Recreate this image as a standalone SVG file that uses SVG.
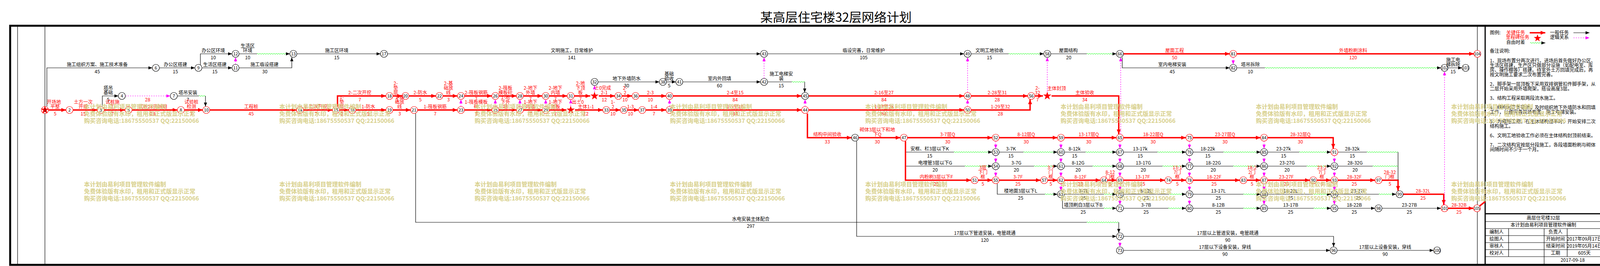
<svg xmlns="http://www.w3.org/2000/svg" width="4106" height="682" viewBox="0 0 4106 682">
<style>
text{font-family:"Noto Sans CJK SC","Noto Sans",sans-serif}
.t{font-size:12px;text-anchor:middle;fill:#000}
.t.rt{fill:#f00}
.lt{font-size:12px;fill:#000}
.n circle{fill:#fff;stroke:#000;stroke-width:1.2}
.n.rn circle{stroke:#f00}
.n text{font-size:11px;text-anchor:middle;fill:#000}
.n text.s{font-size:10px}
.k{fill:none;stroke:#000;stroke-width:1.2;marker-end:url(#ak)}
.kn{fill:none;stroke:#000;stroke-width:1.2}
.r{fill:none;stroke:#f00;stroke-width:3.5;marker-end:url(#ar)}
.rs{fill:none;stroke:#f00;stroke-width:3.5}
.m{fill:none;stroke:#f0f;stroke-width:1.2;stroke-dasharray:3 3;marker-end:url(#am)}
.w{fill:url(#wave)}
.fr{fill:none;stroke:#000}
.wm{font-size:15px;font-weight:bold;fill:#d8d08c}
</style>
<defs>
<marker id="ak" viewBox="0 0 10 8" refX="10" refY="4" markerWidth="10" markerHeight="8" markerUnits="userSpaceOnUse" orient="auto"><path d="M0,0 L10,4 L0,8 z" fill="#000"/></marker>
<marker id="am" viewBox="0 0 10 8" refX="10" refY="4" markerWidth="10" markerHeight="8" markerUnits="userSpaceOnUse" orient="auto"><path d="M0,0 L10,4 L0,8 z" fill="#f0f"/></marker>
<marker id="ar" viewBox="0 0 12 10" refX="12" refY="5" markerWidth="12" markerHeight="10" markerUnits="userSpaceOnUse" orient="auto"><path d="M0,0 L12,5 L0,10 z" fill="#f00"/></marker>
<pattern id="wave" width="6" height="6" patternUnits="userSpaceOnUse"><path d="M0,3 Q1.5,0.5 3,3 T6,3" fill="none" stroke="#0f0" stroke-width="1"/></pattern>
<path id="star" d="M0,-11 L2.59,-3.56 L10.46,-3.4 L4.18,1.36 L6.47,8.9 L0,4.4 L-6.47,8.9 L-4.18,1.36 L-10.46,-3.4 L-2.59,-3.56 Z" fill="#f00"/>
</defs>
<rect width="4106" height="682" fill="#fff"/>
<text x="2140" y="56" font-size="32" text-anchor="middle" fill="#000">某高层住宅楼32层网络计划</text>
<g id="frame">
<rect class="fr" x="26" y="66" width="4075" height="613" stroke-width="5"/>
<path class="fr" d="M45,66 V679 M115,66 V679 M3782,66 V679" stroke-width="1.2"/>
<path class="fr" d="M3802,66 V679" stroke-width="3"/>
</g>
<g id="connectors">
<path class="k" d="M120,273 V174 H390"/>
<path class="k" d="M408,174 H499"/>
<path class="k" d="M513,166 V138 H594"/>
<path class="k" d="M517,174 H594"/>
<path class="k" d="M612,174 H747 V147"/>
<path class="kn" d="M612,138 H658"/><rect class="w" width="80" height="6" transform="translate(658,135)"/><path class="k" d="M738,138 H742"/>
<path class="k" d="M760,138 H974"/>
<path class="k" d="M992,138 H1947"/>
<path class="k" d="M1965,138 H2468"/>
<path class="kn" d="M2486,138 H2582"/><rect class="w" width="82" height="6" transform="translate(2582,135)"/><path class="k" d="M2666,138 H2672"/>
<path class="kn" d="M2690,138 H2782"/><rect class="w" width="70" height="6" transform="translate(2782,135)"/><path class="k" d="M2852,138 H2858"/>
<path class="r" d="M2876,138 H3148"/>
<path class="r" d="M3166,138 H3773"/>
<path class="k" d="M2873,147 V174 H3148"/>
<path class="kn" d="M3166,174 H3238"/><rect class="w" width="446" height="6" transform="translate(3238,171)"/><path class="k" d="M3684,174 H3689"/>
<path class="k" d="M3707,174 H3743"/>
<path class="k" d="M262,273 V246 H303"/>
<path class="kn" d="M454,246 H509"/><rect class="w" width="17" height="6" transform="translate(509,243)"/><path class="k" d="M526,246 V273"/>
<path class="k" d="M1531,210 H1688"/>
<path class="k" d="M1706,210 H1730"/>
<path class="k" d="M1748,210 H1947"/>
<path class="kn" d="M1965,210 H2027"/><rect class="w" width="33" height="6" transform="translate(2027,207)"/><path class="k" d="M2060,210 V237"/>
<path class="r" d="M124,282 H169"/>
<path class="r" d="M187,282 H249"/>
<path class="r" d="M267,282 H320"/>
<path class="r" d="M338,282 H454"/>
<path class="r" d="M472,282 H519"/>
<path class="r" d="M537,282 H759"/>
<path class="r" d="M777,282 H851"/>
<path class="r" d="M869,282 H893"/>
<path class="r" d="M864,273 V246 H988"/>
<path class="r" d="M911,282 H988"/>
<path class="r" d="M1006,246 H1029"/>
<path class="r" d="M1006,282 H1051"/>
<path class="r" d="M1047,246 H1116"/>
<path class="r" d="M1069,282 H1171"/>
<path class="r" d="M1134,246 H1171"/>
<path class="r" d="M1189,282 H1259"/>
<path class="r" d="M1189,246 H1259"/>
<path class="r" d="M1277,282 H1322"/>
<path class="r" d="M1277,246 H1322"/>
<path class="r" d="M1340,282 H1388"/>
<path class="r" d="M1340,246 H1388"/>
<path class="r" d="M1406,282 H1450"/>
<path class="r" d="M1406,246 H1452"/>
<path class="r" d="M1470,246 H1511"/>
<path class="r" d="M1472,282 H1543"/>
<path class="r" d="M1533,246 H1574"/>
<path class="r" d="M1561,282 H1588"/>
<path class="r" d="M1592,246 H1618"/>
<path class="r" d="M1606,282 H1635"/>
<path class="r" d="M1636,246 H1705"/>
<path class="r" d="M1653,282 H1705"/>
<path class="r" d="M1723,246 H2052"/>
<path class="r" d="M1723,282 H2052"/>
<path class="r" d="M2070,246 H2468"/>
<path class="r" d="M2070,282 H2468"/>
<path class="r" d="M2486,246 H2631"/>
<path class="r" d="M2486,282 H2637 V255"/>
<path class="r" d="M2649,246 H2670"/>
<path class="r" d="M2692,246 H2864 V344"/>
<path class="r" d="M2067,291 V353 H2180"/>
<path class="r" d="M2198,353 H2305"/>
<path class="r" d="M2323,353 H2540"/>
<path class="r" d="M2558,353 H2707"/>
<path class="r" d="M2725,353 H2858"/>
<path class="r" d="M2876,353 H3036"/>
<path class="r" d="M3054,353 H3227"/>
<path class="r" d="M3245,353 H3413 V381"/>
<path class="r" d="M2318,362 V462 H2486"/>
<path class="r" d="M2504,462 H2540"/>
<path class="r" d="M2558,462 H2664"/>
<path class="r" d="M2682,462 H2707"/>
<path class="r" d="M2725,462 H2817"/>
<path class="r" d="M2835,462 H2858"/>
<path class="r" d="M2876,462 H2982"/>
<path class="r" d="M3000,462 H3036"/>
<path class="r" d="M3054,462 H3174"/>
<path class="r" d="M3192,462 H3227"/>
<path class="r" d="M3245,462 H3353"/>
<path class="r" d="M3371,462 H3407"/>
<path class="r" d="M3425,462 H3520"/>
<path class="r" d="M3538,462 H3579 V489"/>
<path class="r" d="M3592,498 H3696 V525"/>
<path class="r" d="M3707,534 H3772"/>
<path class="rs" d="M3788,528 L3802,517"/>
<path class="kn" d="M2320,390 H2442"/><rect class="w" width="94" height="6" transform="translate(2442,387)"/><path class="k" d="M2535,390 H2540"/>
<path class="kn" d="M2558,390 H2620"/><rect class="w" width="83" height="6" transform="translate(2620,387)"/><path class="k" d="M2702,390 H2707"/>
<path class="kn" d="M2725,390 H2779"/><rect class="w" width="75" height="6" transform="translate(2779,387)"/><path class="k" d="M2853,390 H2858"/>
<path class="kn" d="M2876,390 H2963"/><rect class="w" width="69" height="6" transform="translate(2963,387)"/><path class="k" d="M3031,390 H3036"/>
<path class="kn" d="M3054,390 H3132"/><rect class="w" width="91" height="6" transform="translate(3132,387)"/><path class="k" d="M3222,390 H3227"/>
<path class="kn" d="M3245,390 H3326"/><rect class="w" width="77" height="6" transform="translate(3326,387)"/><path class="k" d="M3402,390 H3407"/>
<path class="kn" d="M3425,390 H3499"/><rect class="w" width="80" height="6" transform="translate(3499,387)"/><path class="kn" d="M3579,390 V462"/>
<path class="kn" d="M2320,426 H2470"/><rect class="w" width="66" height="6" transform="translate(2470,423)"/><path class="k" d="M2535,426 H2540"/>
<path class="kn" d="M2558,426 H2647"/><rect class="w" width="56" height="6" transform="translate(2647,423)"/><path class="k" d="M2702,426 H2707"/>
<path class="kn" d="M2725,426 H2797"/><rect class="w" width="57" height="6" transform="translate(2797,423)"/><path class="k" d="M2853,426 H2858"/>
<path class="kn" d="M2876,426 H2976"/><rect class="w" width="56" height="6" transform="translate(2976,423)"/><path class="k" d="M3031,426 H3036"/>
<path class="kn" d="M3054,426 H3157"/><rect class="w" width="66" height="6" transform="translate(3157,423)"/><path class="k" d="M3222,426 H3227"/>
<path class="kn" d="M3245,426 H3345"/><rect class="w" width="58" height="6" transform="translate(3345,423)"/><path class="k" d="M3402,426 H3407"/>
<path class="kn" d="M3425,426 H3514"/><rect class="w" width="65" height="6" transform="translate(3514,423)"/>
<path class="kn" d="M2553,471 V498 H2675"/><rect class="w" width="28" height="6" transform="translate(2675,495)"/><path class="k" d="M2702,498 H2707"/>
<path class="kn" d="M2725,498 H2826"/><rect class="w" width="28" height="6" transform="translate(2826,495)"/><path class="k" d="M2853,498 H2858"/>
<path class="kn" d="M2876,498 H2993"/><rect class="w" width="39" height="6" transform="translate(2993,495)"/><path class="k" d="M3031,498 H3036"/>
<path class="kn" d="M3054,498 H3183"/><rect class="w" width="40" height="6" transform="translate(3183,495)"/><path class="k" d="M3222,498 H3227"/>
<path class="kn" d="M3245,498 H3361"/><rect class="w" width="42" height="6" transform="translate(3361,495)"/><path class="k" d="M3402,498 H3407"/>
<path class="kn" d="M3425,498 H3530"/><rect class="w" width="40" height="6" transform="translate(3530,495)"/><path class="k" d="M3569,498 H3574"/>
<path class="kn" d="M2720,507 V534 H2826"/><rect class="w" width="28" height="6" transform="translate(2826,531)"/><path class="k" d="M2853,534 H2858"/>
<path class="kn" d="M2876,534 H2991"/><rect class="w" width="41" height="6" transform="translate(2991,531)"/><path class="k" d="M3031,534 H3036"/>
<path class="kn" d="M3054,534 H3183"/><rect class="w" width="40" height="6" transform="translate(3183,531)"/><path class="k" d="M3222,534 H3227"/>
<path class="kn" d="M3245,534 H3363"/><rect class="w" width="40" height="6" transform="translate(3363,531)"/><path class="k" d="M3402,534 H3407"/>
<path class="k" d="M3425,534 H3520"/>
<path class="k" d="M3538,534 H3689"/>
<path class="kn" d="M1064,291 V570 H2782"/><rect class="w" width="82" height="6" transform="translate(2782,567)"/><path class="k" d="M2864,570 V597"/>
<path class="k" d="M2193,362 V606 H2858"/>
<path class="k" d="M2876,606 H3414 V633"/>
<path class="k" d="M2876,642 H3405"/>
<path class="k" d="M3423,642 H3670"/>
<path class="m" d="M321,246 H436"/>
<path class="m" d="M603,165 V147"/>
<path class="m" d="M1956,201 V147"/>
<path class="m" d="M2477,237 V147"/>
<path class="m" d="M2681,235 V147"/>
<path class="m" d="M2869,344 V147"/>
<path class="m" d="M3157,147 V165"/>
<path class="m" d="M3698,525 V183"/>
<path class="m" d="M1522,235 V219"/>
<path class="m" d="M1180,273 V255"/>
<path class="m" d="M1268,273 V255"/>
<path class="m" d="M1331,273 V255"/>
<path class="m" d="M1397,273 V255"/>
<path class="m" d="M1461,271 V255"/>
<path class="m" d="M1714,273 V255"/>
<path class="m" d="M2061,273 V255"/>
<path class="m" d="M2477,273 V255"/>
<path class="m" d="M2549,362 V381"/><path class="m" d="M2549,399 V417"/><path class="m" d="M2549,435 V453"/>
<path class="m" d="M2716,362 V381"/><path class="m" d="M2716,399 V417"/><path class="m" d="M2716,435 V453"/><path class="m" d="M2716,471 V489"/>
<path class="m" d="M2867,362 V381"/><path class="m" d="M2867,399 V417"/><path class="m" d="M2867,435 V453"/><path class="m" d="M2867,471 V489"/><path class="m" d="M2867,507 V525"/>
<path class="m" d="M3045,362 V381"/><path class="m" d="M3045,399 V417"/><path class="m" d="M3045,435 V453"/><path class="m" d="M3045,471 V489"/><path class="m" d="M3045,507 V525"/>
<path class="m" d="M3236,362 V381"/><path class="m" d="M3236,399 V417"/><path class="m" d="M3236,435 V453"/><path class="m" d="M3236,471 V489"/><path class="m" d="M3236,507 V525"/>
<path class="m" d="M3416,399 V417"/><path class="m" d="M3416,435 V453"/><path class="m" d="M3416,471 V489"/><path class="m" d="M3416,507 V525"/>
<path class="m" d="M2867,615 V633"/>
</g>
<g id="nodes">
<g id="n1" class="n rn" transform="translate(115,282)"><circle r="9"/><use href="#star"/><text y="4">1</text></g>
<g id="n2" class="n rn" transform="translate(178,282)"><circle r="9"/><text y="4">2</text></g>
<g id="n3" class="n rn" transform="translate(258,282)"><circle r="9"/><text y="4">3</text></g>
<g id="n4" class="n" transform="translate(312,246)"><circle r="9"/><text y="4">4</text></g>
<g id="n5" class="n rn" transform="translate(329,282)"><circle r="9"/><text y="4">5</text></g>
<g id="n6" class="n" transform="translate(399,174)"><circle r="9"/><text y="4">6</text></g>
<g id="n7" class="n" transform="translate(445,246)"><circle r="9"/><text y="4">7</text></g>
<g id="n8" class="n rn" transform="translate(463,282)"><circle r="9"/><text y="4">8</text></g>
<g id="n9" class="n" transform="translate(508,174)"><circle r="9"/><text y="4">9</text></g>
<g id="n10" class="n rn" transform="translate(528,282)"><circle r="9"/><text y="4">10</text></g>
<g id="n11" class="n" transform="translate(603,174)"><circle r="9"/><text y="4">11</text></g>
<g id="n12" class="n" transform="translate(603,138)"><circle r="9"/><text y="4">12</text></g>
<g id="n13" class="n" transform="translate(751,138)"><circle r="9"/><text y="4">13</text></g>
<g id="n14" class="n rn" transform="translate(768,282)"><circle r="9"/><text y="4">14</text></g>
<g id="n15" class="n rn" transform="translate(860,282)"><circle r="9"/><text y="4">15</text></g>
<g id="n16" class="n rn" transform="translate(902,282)"><circle r="9"/><text y="4">16</text></g>
<g id="n17" class="n" transform="translate(983,138)"><circle r="9"/><text y="4">17</text></g>
<g id="n18" class="n rn" transform="translate(997,246)"><circle r="9"/><text y="4">18</text></g>
<g id="n19" class="n rn" transform="translate(997,282)"><circle r="9"/><text y="4">19</text></g>
<g id="n20" class="n rn" transform="translate(1038,246)"><circle r="9"/><text y="4">20</text></g>
<g id="n21" class="n rn" transform="translate(1060,282)"><circle r="9"/><text y="4">21</text></g>
<g id="n22" class="n rn" transform="translate(1125,246)"><circle r="9"/><text y="4">22</text></g>
<g id="n23" class="n rn" transform="translate(1180,282)"><circle r="9"/><text y="4">23</text></g>
<g id="n24" class="n rn" transform="translate(1180,246)"><circle r="9"/><text y="4">24</text></g>
<g id="n25" class="n rn" transform="translate(1268,282)"><circle r="9"/><text y="4">25</text></g>
<g id="n26" class="n rn" transform="translate(1268,246)"><circle r="9"/><text y="4">26</text></g>
<g id="n27" class="n rn" transform="translate(1331,282)"><circle r="9"/><text y="4">27</text></g>
<g id="n28" class="n rn" transform="translate(1331,246)"><circle r="9"/><text y="4">28</text></g>
<g id="n29" class="n rn" transform="translate(1397,282)"><circle r="9"/><text y="4">29</text></g>
<g id="n30" class="n rn" transform="translate(1397,246)"><circle r="9"/><text y="4">30</text></g>
<g id="n31" class="n rn" transform="translate(1461,246)"><circle r="9"/><text y="4">31</text></g>
<g id="ms1" transform="translate(1461,282)"><use href="#star"/></g>
<g id="n32" class="n" transform="translate(1522,210)"><circle r="9"/><text y="4">32</text></g>
<g id="ms2" transform="translate(1522,246)"><use href="#star"/></g>
<g id="n33" class="n rn" transform="translate(1552,282)"><circle r="9"/><text y="4">33</text></g>
<g id="n34" class="n rn" transform="translate(1583,246)"><circle r="9"/><text y="4">34</text></g>
<g id="n35" class="n rn" transform="translate(1597,282)"><circle r="9"/><text y="4">35</text></g>
<g id="n36" class="n rn" transform="translate(1627,246)"><circle r="9"/><text y="4">36</text></g>
<g id="n37" class="n rn" transform="translate(1644,282)"><circle r="9"/><text y="4">37</text></g>
<g id="n38" class="n" transform="translate(1697,210)"><circle r="9"/><text y="4">38</text></g>
<g id="n39" class="n rn" transform="translate(1714,282)"><circle r="9"/><text y="4">39</text></g>
<g id="n40" class="n rn" transform="translate(1714,246)"><circle r="9"/><text y="4">40</text></g>
<g id="n41" class="n" transform="translate(1739,210)"><circle r="9"/><text y="4">41</text></g>
<g id="n42" class="n" transform="translate(1956,210)"><circle r="9"/><text y="4">42</text></g>
<g id="n43" class="n" transform="translate(1956,138)"><circle r="9"/><text y="4">43</text></g>
<g id="n44" class="n rn" transform="translate(2061,282)"><circle r="9"/><text y="4">44</text></g>
<g id="n45" class="n" transform="translate(2061,246)"><circle r="9"/><text y="4">45</text></g>
<g id="n46" class="n" transform="translate(2189,353)"><circle r="9"/><text y="4">46</text></g>
<g id="n47" class="n rn" transform="translate(2314,353)"><circle r="9"/><text y="4">47</text></g>
<g id="n48" class="n rn" transform="translate(2477,246)"><circle r="9"/><text y="4">48</text></g>
<g id="n49" class="n" transform="translate(2477,138)"><circle r="9"/><text y="4">49</text></g>
<g id="n50" class="n rn" transform="translate(2477,282)"><circle r="9"/><text y="4">50</text></g>
<g id="n51" class="n rn" transform="translate(2495,462)"><circle r="9"/><text y="4">51</text></g>
<g id="n52" class="n rn" transform="translate(2549,353)"><circle r="9"/><text y="4">52</text></g>
<g id="n53" class="n" transform="translate(2549,390)"><circle r="9"/><text y="4">53</text></g>
<g id="n54" class="n" transform="translate(2549,426)"><circle r="9"/><text y="4">54</text></g>
<g id="n55" class="n rn" transform="translate(2549,462)"><circle r="9"/><text y="4">55</text></g>
<g id="n56" class="n rn" transform="translate(2640,246)"><circle r="9"/><text y="4">56</text></g>
<g id="ms3" transform="translate(2681,246)"><use href="#star"/></g>
<g id="n57" class="n rn" transform="translate(2673,462)"><circle r="9"/><text y="4">57</text></g>
<g id="n58" class="n" transform="translate(2681,138)"><circle r="9"/><text y="4">58</text></g>
<g id="n59" class="n rn" transform="translate(2716,353)"><circle r="9"/><text y="4">59</text></g>
<g id="n60" class="n" transform="translate(2716,390)"><circle r="9"/><text y="4">60</text></g>
<g id="n61" class="n" transform="translate(2716,426)"><circle r="9"/><text y="4">61</text></g>
<g id="n62" class="n rn" transform="translate(2716,462)"><circle r="9"/><text y="4">62</text></g>
<g id="n63" class="n" transform="translate(2716,498)"><circle r="9"/><text y="4">63</text></g>
<g id="n64" class="n rn" transform="translate(2826,462)"><circle r="9"/><text y="4">64</text></g>
<g id="n65" class="n rn" transform="translate(2867,353)"><circle r="9"/><text y="4">65</text></g>
<g id="n66" class="n" transform="translate(2867,138)"><circle r="9"/><text y="4">66</text></g>
<g id="n67" class="n" transform="translate(2867,390)"><circle r="9"/><text y="4">67</text></g>
<g id="n68" class="n" transform="translate(2867,426)"><circle r="9"/><text y="4">68</text></g>
<g id="n69" class="n rn" transform="translate(2867,462)"><circle r="9"/><text y="4">69</text></g>
<g id="n70" class="n" transform="translate(2867,498)"><circle r="9"/><text y="4">70</text></g>
<g id="n71" class="n" transform="translate(2867,534)"><circle r="9"/><text y="4">71</text></g>
<g id="n72" class="n" transform="translate(2867,606)"><circle r="9"/><text y="4">72</text></g>
<g id="n73" class="n" transform="translate(2867,642)"><circle r="9"/><text y="4">73</text></g>
<g id="n74" class="n rn" transform="translate(2991,462)"><circle r="9"/><text y="4">74</text></g>
<g id="n75" class="n rn" transform="translate(3045,353)"><circle r="9"/><text y="4">75</text></g>
<g id="n76" class="n" transform="translate(3045,390)"><circle r="9"/><text y="4">76</text></g>
<g id="n77" class="n" transform="translate(3045,426)"><circle r="9"/><text y="4">77</text></g>
<g id="n78" class="n rn" transform="translate(3045,462)"><circle r="9"/><text y="4">78</text></g>
<g id="n79" class="n" transform="translate(3045,498)"><circle r="9"/><text y="4">79</text></g>
<g id="n80" class="n" transform="translate(3045,534)"><circle r="9"/><text y="4">80</text></g>
<g id="n81" class="n rn" transform="translate(3157,138)"><circle r="9"/><text y="4">81</text></g>
<g id="n82" class="n" transform="translate(3157,174)"><circle r="9"/><text y="4">82</text></g>
<g id="n83" class="n rn" transform="translate(3183,462)"><circle r="9"/><text y="4">83</text></g>
<g id="n84" class="n rn" transform="translate(3236,353)"><circle r="9"/><text y="4">84</text></g>
<g id="n85" class="n" transform="translate(3236,390)"><circle r="9"/><text y="4">85</text></g>
<g id="n86" class="n" transform="translate(3236,426)"><circle r="9"/><text y="4">86</text></g>
<g id="n87" class="n rn" transform="translate(3236,462)"><circle r="9"/><text y="4">87</text></g>
<g id="n88" class="n" transform="translate(3236,498)"><circle r="9"/><text y="4">88</text></g>
<g id="n89" class="n" transform="translate(3236,534)"><circle r="9"/><text y="4">89</text></g>
<g id="n90" class="n rn" transform="translate(3362,462)"><circle r="9"/><text y="4">90</text></g>
<g id="n91" class="n rn" transform="translate(3416,390)"><circle r="9"/><text y="4">91</text></g>
<g id="n92" class="n" transform="translate(3416,426)"><circle r="9"/><text y="4">92</text></g>
<g id="n93" class="n rn" transform="translate(3416,462)"><circle r="9"/><text y="4">93</text></g>
<g id="n94" class="n" transform="translate(3416,498)"><circle r="9"/><text y="4">94</text></g>
<g id="n95" class="n" transform="translate(3416,534)"><circle r="9"/><text y="4">95</text></g>
<g id="n96" class="n" transform="translate(3414,642)"><circle r="9"/><text y="4">96</text></g>
<g id="n97" class="n rn" transform="translate(3529,462)"><circle r="9"/><text y="4">97</text></g>
<g id="n98" class="n" transform="translate(3529,534)"><circle r="9"/><text y="4">98</text></g>
<g id="n99" class="n" transform="translate(3583,498)"><circle r="9"/><text y="4">99</text></g>
<g id="n100" class="n" transform="translate(3679,642)"><circle r="9"/><text class="s" y="4">100</text></g>
<g id="n101" class="n rn" transform="translate(3698,534)"><circle r="9"/><text class="s" y="4">101</text></g>
<g id="n102" class="n" transform="translate(3698,174)"><circle r="9"/><text class="s" y="4">102</text></g>
<g id="n103" class="n" transform="translate(3752,174)"><circle r="9"/><text class="s" y="4">103</text></g>
<g id="n104" class="n rn" transform="translate(3782,138)"><circle r="9"/><text class="s" y="4">104</text></g>
<g id="n105" class="n rn" transform="translate(3781,534)"><circle r="9"/><text class="s" y="4">105</text></g>
</g>
<g id="labels">
<text class="t" x="546" y="134">办公区环境</text><text class="t" x="546" y="152">10</text>
<text class="t" x="634" y="122">生活区<tspan x="634" dy="12">环境</tspan></text><text class="t" x="634" y="152">10</text>
<text class="t" x="862" y="134">施工区环境</text><text class="t" x="862" y="152">15</text>
<text class="t" x="1464" y="134">文明施工，日常维护</text><text class="t" x="1464" y="152">141</text>
<text class="t" x="2211" y="134">临设完善，日常维护</text><text class="t" x="2211" y="152">105</text>
<text class="t" x="2533" y="134">文明工地验收</text><text class="t" x="2533" y="152">15</text>
<text class="t" x="2735" y="134">屋面结构</text><text class="t" x="2736" y="152">20</text>
<text class="t rt" x="3007" y="134">屋面工程</text><text class="t rt" x="3007" y="152">50</text>
<text class="t rt" x="3464" y="134">外墙粉刷涂料</text><text class="t rt" x="3464" y="152">120</text>
<text class="t" x="249" y="170">施工组织方案、施工技术准备</text><text class="t" x="249" y="188">45</text>
<text class="t" x="449" y="170">办公区搭建</text><text class="t" x="449" y="188">15</text>
<text class="t" x="550" y="170">生活区搭建</text><text class="t" x="550" y="188">15</text>
<text class="t" x="677" y="170">施工临设搭建</text><text class="t" x="678" y="188">30</text>
<text class="t" x="3001" y="170">室内电梯安装</text><text class="t" x="3001" y="188">45</text>
<text class="t" x="3201" y="170">塔吊拆除</text><text class="t" x="3201" y="188">10</text>
<text class="t" x="3720" y="158">施工电<tspan x="3720" dy="12">梯拆除</tspan></text><text class="t" x="3720" y="188">15</text>
<text class="t" x="1604" y="206">地下外墙防水</text><text class="t" x="1604" y="224">30</text>
<text class="t" x="1713" y="194">基础<tspan x="1713" dy="12">验收</tspan></text><text class="t" x="1713" y="224">5</text>
<text class="t" x="1842" y="206">室内外回填</text><text class="t" x="1842" y="224">60</text>
<text class="t" x="2000" y="194">施工电梯安<tspan x="2000" dy="12">装</tspan></text><text class="t" x="2000" y="224">15</text>
<text class="t" x="277" y="230">塔吊<tspan x="277" dy="12">基础</tspan></text><text class="t" x="277" y="260">5</text>
<text class="t rt" x="378" y="260">28</text>
<text class="t" x="481" y="242">塔吊安装</text><text class="t" x="481" y="260">7</text>
<text class="t rt" x="921" y="242">2-二次开挖</text><text class="t rt" x="921" y="260">7</text>
<text class="t rt" x="1013" y="218">2-<tspan x="1013" dy="12">垫</tspan><tspan x="1013" dy="12">层</tspan></text><text class="t rt" x="1017" y="260">1</text>
<text class="t rt" x="1076" y="242">2-防水</text><text class="t rt" x="1076" y="260">5</text>
<text class="t rt" x="1148" y="218">2-基<tspan x="1148" dy="12">础放</tspan><tspan x="1148" dy="12">线</tspan></text><text class="t rt" x="1148" y="260">3</text>
<text class="t rt" x="1219" y="242">2-筏板钢筋</text><text class="t rt" x="1219" y="258">7</text>
<text class="t rt" x="1294" y="230">2-筏板<tspan x="1294" dy="12">模板砼</tspan></text>
<text class="t rt" x="1358" y="230">2-地下<tspan x="1358" dy="12">外墙</tspan></text><text class="t rt" x="1358" y="258">7</text>
<text class="t rt" x="1422" y="230">2-地下<tspan x="1422" dy="12">内墙</tspan></text><text class="t rt" x="1422" y="258">7</text>
<text class="t rt" x="1486" y="218">2-地<tspan x="1486" dy="12">下顶</tspan><tspan x="1486" dy="12">板</tspan></text><text class="t rt" x="1486" y="258">7</text>
<text class="t rt" x="1543" y="230">±0完成</text>
<text class="t rt" x="1547" y="242">2-1</text><text class="t rt" x="1547" y="260">12</text>
<text class="t rt" x="1600" y="230">2-<tspan x="1600" dy="12">2</tspan></text><text class="t rt" x="1600" y="260">10</text>
<text class="t rt" x="1665" y="242">2-3</text><text class="t rt" x="1665" y="260">10</text>
<text class="t rt" x="1882" y="242">2-4至15</text><text class="t rt" x="1882" y="260">84</text>
<text class="t rt" x="2263" y="242">2-16至27</text><text class="t rt" x="2263" y="260">84</text>
<text class="t rt" x="2553" y="242">2-28至31</text><text class="t rt" x="2553" y="260">28</text>
<text class="t rt" x="2656" y="230">2-<tspan x="2656" dy="12">32</tspan></text><text class="t rt" x="2656" y="260">7</text>
<text class="t rt" x="2705" y="231">主体封顶</text>
<text class="t rt" x="2777" y="242">主体验收</text><text class="t rt" x="2777" y="260">34</text>
<text class="t rt" x="138" y="266">开场地<tspan x="141" dy="12">平整</tspan></text><text class="t rt" x="141" y="296">5</text>
<text class="t rt" x="213" y="266">土方一次<tspan x="213" dy="12">开挖</tspan></text><text class="t rt" x="213" y="296">15</text>
<text class="t rt" x="288" y="266">试桩施<tspan x="288" dy="12">工</tspan></text><text class="t rt" x="288" y="296">7</text>
<text class="t rt" x="391" y="278">试桩28天龄期</text><text class="t rt" x="391" y="296">28</text>
<text class="t rt" x="490" y="266">试验桩<tspan x="490" dy="12">检测</tspan></text><text class="t rt" x="490" y="296">7</text>
<text class="t rt" x="643" y="278">工程桩</text><text class="t rt" x="643" y="296">45</text>
<text class="t rt" x="809" y="278">1-二次开挖</text><text class="t rt" x="809" y="296">7</text>
<text class="t rt" x="875" y="254">1-<tspan x="875" dy="12">垫</tspan><tspan x="875" dy="12">层</tspan></text><text class="t rt" x="875" y="296">2</text>
<text class="t rt" x="943" y="278">1-防水</text><text class="t rt" x="943" y="296">5</text>
<text class="t rt" x="1023" y="254">1-基<tspan x="1023" dy="12">础放</tspan><tspan x="1023" dy="12">线</tspan></text><text class="t rt" x="1023" y="296">3</text>
<text class="t rt" x="1114" y="278">1-筏板钢筋</text><text class="t rt" x="1114" y="296">7</text>
<text class="t rt" x="1219" y="266">1-筏板模板<tspan x="1219" dy="12">砼</tspan></text><text class="t rt" x="1219" y="296">7</text>
<text class="t rt" x="1294" y="254">1-地<tspan x="1294" dy="12">下外</tspan><tspan x="1294" dy="12">墙</tspan></text><text class="t rt" x="1294" y="296">7</text>
<text class="t rt" x="1358" y="266">1-地下<tspan x="1358" dy="12">内墙</tspan></text><text class="t rt" x="1358" y="296">7</text>
<text class="t rt" x="1422" y="266">1-地下<tspan x="1422" dy="12">顶板</tspan></text><text class="t rt" x="1422" y="296">7</text>
<text class="t rt" x="1479" y="266">出±0</text>
<text class="t rt" x="1500" y="278">主体1-1</text><text class="t rt" x="1500" y="296">12</text>
<text class="t rt" x="1569" y="266">1-<tspan x="1569" dy="12">2</tspan></text><text class="t rt" x="1569" y="296">10</text>
<text class="t rt" x="1614" y="278">1-3</text><text class="t rt" x="1614" y="296">10</text>
<text class="t rt" x="1674" y="278">1-4</text><text class="t rt" x="1674" y="296">7</text>
<text class="t rt" x="1882" y="278">1-5至16</text><text class="t rt" x="1882" y="296">84</text>
<text class="t rt" x="2263" y="278">1-17至28</text><text class="t rt" x="2263" y="296">84</text>
<text class="t rt" x="2561" y="278">1-29至32</text><text class="t rt" x="2561" y="296">28</text>
<text class="t rt" x="2118" y="349">结构中间验收</text><text class="t rt" x="2118" y="368">33</text>
<text class="t rt" x="2246" y="337">砌体3层以下和地<tspan x="2246" dy="12">下Q</tspan></text><text class="t rt" x="2246" y="368">30</text>
<text class="t rt" x="2426" y="349">3-7层Q</text><text class="t rt" x="2426" y="368">30</text>
<text class="t rt" x="2627" y="349">8-12层Q</text><text class="t rt" x="2627" y="368">30</text>
<text class="t rt" x="2787" y="349">13-17层Q</text><text class="t rt" x="2787" y="368">30</text>
<text class="t rt" x="2952" y="349">18-22层Q</text><text class="t rt" x="2952" y="368">30</text>
<text class="t rt" x="3136" y="349">23-27层Q</text><text class="t rt" x="3136" y="368">30</text>
<text class="t rt" x="3329" y="349">28-32层Q</text><text class="t rt" x="3329" y="368">30</text>
<text class="t" x="2380" y="386">安框、栏3层以下K</text><text class="t" x="2380" y="404">15</text>
<text class="t" x="2588" y="386">3-7K</text><text class="t" x="2588" y="404">15</text>
<text class="t" x="2751" y="386">8-12k</text><text class="t" x="2751" y="404">15</text>
<text class="t" x="2919" y="386">13-17k</text><text class="t" x="2919" y="404">15</text>
<text class="t" x="3092" y="386">18-22k</text><text class="t" x="3092" y="404">15</text>
<text class="t" x="3286" y="386">23-27k</text><text class="t" x="3286" y="404">15</text>
<text class="t" x="3462" y="386">28-32k</text><text class="t" x="3462" y="404">15</text>
<text class="t" x="2394" y="422">电埋管3层以下G</text><text class="t" x="2394" y="440">20</text>
<text class="t" x="2602" y="422">3-7G</text><text class="t" x="2602" y="440">20</text>
<text class="t" x="2760" y="422">8-12G</text><text class="t" x="2760" y="440">20</text>
<text class="t" x="2927" y="422">13-17G</text><text class="t" x="2927" y="440">20</text>
<text class="t" x="3106" y="422">18-22G</text><text class="t" x="3106" y="440">20</text>
<text class="t" x="3295" y="422">23-27G</text><text class="t" x="3295" y="440">20</text>
<text class="t" x="3469" y="422">28-32G</text><text class="t" x="3469" y="440">20</text>
<text class="t rt" x="2397" y="458">内粉刷3层以下F</text><text class="t rt" x="2397" y="476">25</text>
<text class="t rt" x="2516" y="434">3层<tspan x="2516" dy="12">下门</tspan><tspan x="2516" dy="12">框</tspan></text><text class="t rt" x="2516" y="476">5</text>
<text class="t rt" x="2606" y="458">3-7F</text><text class="t rt" x="2606" y="476">25</text>
<text class="t rt" x="2690" y="434">3-7<tspan x="2690" dy="12">门</tspan><tspan x="2690" dy="12">框</tspan></text><text class="t rt" x="2690" y="476">5</text>
<text class="t rt" x="2766" y="458">8-12F</text><text class="t rt" x="2766" y="476">25</text>
<text class="t rt" x="2842" y="446">8-12<tspan x="2842" dy="12">门框</tspan></text><text class="t rt" x="2842" y="476">5</text>
<text class="t rt" x="2925" y="458">13-17F</text><text class="t rt" x="2925" y="476">25</text>
<text class="t rt" x="3014" y="434">13-1<tspan x="3014" dy="12">7门</tspan><tspan x="3014" dy="12">框</tspan></text><text class="t rt" x="3014" y="476">5</text>
<text class="t rt" x="3108" y="458">18-22F</text><text class="t rt" x="3108" y="476">25</text>
<text class="t rt" x="3205" y="434">18-2<tspan x="3205" dy="12">2门</tspan><tspan x="3205" dy="12">框</tspan></text><text class="t rt" x="3205" y="476">5</text>
<text class="t rt" x="3293" y="458">23-27F</text><text class="t rt" x="3293" y="476">25</text>
<text class="t rt" x="3384" y="434">23-2<tspan x="3384" dy="12">7门</tspan><tspan x="3384" dy="12">框</tspan></text><text class="t rt" x="3384" y="476">5</text>
<text class="t rt" x="3467" y="458">28-32F</text><text class="t rt" x="3467" y="476">25</text>
<text class="t rt" x="3558" y="446">28-32<tspan x="3558" dy="12">门框</tspan></text><text class="t rt" x="3558" y="476">5</text>
<text class="t" x="2613" y="494">楼地面3层以下L</text><text class="t" x="2613" y="512">25</text>
<text class="t" x="2774" y="494">3-7L</text><text class="t" x="2774" y="512">25</text>
<text class="t" x="2934" y="494">8-12L</text><text class="t" x="2934" y="512">25</text>
<text class="t" x="3119" y="494">13-17L</text><text class="t" x="3119" y="512">25</text>
<text class="t" x="3304" y="494">18-22L</text><text class="t" x="3304" y="512">25</text>
<text class="t" x="3477" y="494">23-27L</text><text class="t" x="3477" y="512">25</text>
<text class="t rt" x="3643" y="494">28-32L</text><text class="t rt" x="3643" y="512">25</text>
<text class="t" x="2773" y="530">墙顶刷白3层以下B</text><text class="t" x="2773" y="548">25</text>
<text class="t" x="2934" y="530">3-7B</text><text class="t" x="2934" y="548">25</text>
<text class="t" x="3119" y="530">8-12B</text><text class="t" x="3119" y="548">25</text>
<text class="t" x="3304" y="530">13-17B</text><text class="t" x="3304" y="548">25</text>
<text class="t" x="3467" y="530">18-22B</text><text class="t" x="3467" y="548">25</text>
<text class="t" x="3608" y="530">23-27B</text><text class="t" x="3608" y="548">25</text>
<text class="t rt" x="3735" y="530">28-32B</text><text class="t rt" x="3735" y="548">25</text>
<text class="t" x="1922" y="566">水电安装主体配合</text><text class="t" x="1922" y="584">297</text>
<text class="t" x="2521" y="602">17层以下管道安装，电管疏通</text><text class="t" x="2521" y="620">120</text>
<text class="t" x="3143" y="602">17层以上管道安装，电管疏通</text><text class="t" x="3143" y="620">90</text>
<text class="t" x="3136" y="638">17层以下设备安装，穿线</text><text class="t" x="3136" y="656">90</text>
<text class="t" x="3546" y="638">17层以上设备安装，穿线</text><text class="t" x="3546" y="656">90</text>
</g>
<g id="legend">
<text class="lt" x="3814" y="88">图例:</text>
<text class="t rt" x="3880" y="88">关键任务</text>
<path class="r" d="M3916,84 H3956"/>
<text class="t rt" x="3885" y="100">里程碑任务</text>
<use href="#star" transform="translate(3936,98) scale(0.9)"/>
<text class="t" x="3880" y="113">自由时差</text>
<rect class="w" width="30" height="6" transform="translate(3917,107)"/><path class="k" d="M3947,110 H3956"/>
<text class="t" x="3992" y="88">一般任务</text>
<path class="k" d="M4028,84 H4069"/>
<text class="t" x="3992" y="100">逻辑关系</text>
<path class="m" d="M4028,97 H4069"/>
<text class="lt" x="3814" y="135">备注说明:</text>
<text class="lt" x="3814" y="160">1、现场布置分两次进行。进场后首先做好办公区、</text>
<text class="lt" x="3814" y="172">生活区搭建，生产区只做部分设施（如配电室、库</text>
<text class="lt" x="3814" y="184">房、操作棚等）搭建。待室外土方回填完成后，再</text>
<text class="lt" x="3814" y="196">按文明施工要求二次布置完善。</text>
<text class="lt" x="3814" y="220">2、脚手架一层顶板下采用双排钢管扣件脚手架，从</text>
<text class="lt" x="3814" y="232">二层开始采用外墙爬架，搭设高度3层。</text>
<text class="lt" x="3814" y="256">3、结构工程采取两段流水施工。</text>
<text class="lt" x="3814" y="280">4、结构出正负零后，及时组织地下外墙防水和回填</text>
<text class="lt" x="3814" y="292">工作，以便完善现场布置、施工电梯安装。</text>
<text class="lt" x="3814" y="316">5、为缩短工期，在主体结构过半时，开始安排二次</text>
<text class="lt" x="3814" y="328">结构施工。</text>
<text class="lt" x="3814" y="352">6、文明工地验收工作必须在主体结构封顶前结束。</text>
<text class="lt" x="3814" y="376">7、二次结构宜按层分段施工，各段墙面粉刷与砌体</text>
<text class="lt" x="3814" y="388">间隔时间不少于一个月。</text>
</g>
<g id="titleblock">
<path class="fr" d="M3802,548 H4101" stroke-width="3"/>
<path class="fr" d="M3802,568 H4101 M3802,586 H4101 M3802,604 H4101 M3802,622 H4101 M3802,640 H4101 M3802,658 H4101 M3862,586 V658 M3953,586 V679 M4012,586 V658" stroke-width="1.2"/>
<text class="t" x="3951" y="563">高层住宅楼32层</text>
<text class="t" x="3951" y="581">本计划由易利项目管理软件编制</text>
<text class="t" x="3831" y="599">编制人</text><text class="t" x="3982" y="599">负责人</text>
<text class="t" x="3831" y="617">绘图人</text><text class="t" x="3982" y="617">开始时间</text><text class="t" x="4056" y="617" font-size="11">2017年09月17日</text>
<text class="t" x="3831" y="635">审核人</text><text class="t" x="3982" y="635">结束时间</text><text class="t" x="4056" y="635" font-size="11">2019年05月14日</text>
<text class="t" x="3831" y="653">校对人</text><text class="t" x="3982" y="653">工期</text><text class="t" x="4056" y="653">605天</text>
<text class="t" x="4026" y="671">2017-09-18</text>
</g>
<g id="watermarks" class="wm">
<text x="215" y="279">本计划由易利项目管理软件编制<tspan x="215" dy="18">免费体验版有水印，租用和正式版显示正常</tspan><tspan x="215" dy="18">购买咨询电话:18675550537 QQ:22150066</tspan></text>
<text x="715" y="279">本计划由易利项目管理软件编制<tspan x="715" dy="18">免费体验版有水印，租用和正式版显示正常</tspan><tspan x="715" dy="18">购买咨询电话:18675550537 QQ:22150066</tspan></text>
<text x="1215" y="279">本计划由易利项目管理软件编制<tspan x="1215" dy="18">免费体验版有水印，租用和正式版显示正常</tspan><tspan x="1215" dy="18">购买咨询电话:18675550537 QQ:22150066</tspan></text>
<text x="1715" y="279">本计划由易利项目管理软件编制<tspan x="1715" dy="18">免费体验版有水印，租用和正式版显示正常</tspan><tspan x="1715" dy="18">购买咨询电话:18675550537 QQ:22150066</tspan></text>
<text x="2215" y="279">本计划由易利项目管理软件编制<tspan x="2215" dy="18">免费体验版有水印，租用和正式版显示正常</tspan><tspan x="2215" dy="18">购买咨询电话:18675550537 QQ:22150066</tspan></text>
<text x="2715" y="279">本计划由易利项目管理软件编制<tspan x="2715" dy="18">免费体验版有水印，租用和正式版显示正常</tspan><tspan x="2715" dy="18">购买咨询电话:18675550537 QQ:22150066</tspan></text>
<text x="3215" y="279">本计划由易利项目管理软件编制<tspan x="3215" dy="18">免费体验版有水印，租用和正式版显示正常</tspan><tspan x="3215" dy="18">购买咨询电话:18675550537 QQ:22150066</tspan></text>
<text x="3715" y="279">本计划由易利项目管理软件编制<tspan x="3715" dy="18">免费体验版有水印，租用和正式版显示正常</tspan><tspan x="3715" dy="18">购买咨询电话:18675550537 QQ:22150066</tspan></text>
<text x="215" y="478">本计划由易利项目管理软件编制<tspan x="215" dy="18">免费体验版有水印，租用和正式版显示正常</tspan><tspan x="215" dy="18">购买咨询电话:18675550537 QQ:22150066</tspan></text>
<text x="715" y="478">本计划由易利项目管理软件编制<tspan x="715" dy="18">免费体验版有水印，租用和正式版显示正常</tspan><tspan x="715" dy="18">购买咨询电话:18675550537 QQ:22150066</tspan></text>
<text x="1215" y="478">本计划由易利项目管理软件编制<tspan x="1215" dy="18">免费体验版有水印，租用和正式版显示正常</tspan><tspan x="1215" dy="18">购买咨询电话:18675550537 QQ:22150066</tspan></text>
<text x="1715" y="478">本计划由易利项目管理软件编制<tspan x="1715" dy="18">免费体验版有水印，租用和正式版显示正常</tspan><tspan x="1715" dy="18">购买咨询电话:18675550537 QQ:22150066</tspan></text>
<text x="2215" y="478">本计划由易利项目管理软件编制<tspan x="2215" dy="18">免费体验版有水印，租用和正式版显示正常</tspan><tspan x="2215" dy="18">购买咨询电话:18675550537 QQ:22150066</tspan></text>
<text x="2715" y="478">本计划由易利项目管理软件编制<tspan x="2715" dy="18">免费体验版有水印，租用和正式版显示正常</tspan><tspan x="2715" dy="18">购买咨询电话:18675550537 QQ:22150066</tspan></text>
<text x="3215" y="478">本计划由易利项目管理软件编制<tspan x="3215" dy="18">免费体验版有水印，租用和正式版显示正常</tspan><tspan x="3215" dy="18">购买咨询电话:18675550537 QQ:22150066</tspan></text>
<text x="3715" y="478">本计划由易利项目管理软件编制<tspan x="3715" dy="18">免费体验版有水印，租用和正式版显示正常</tspan><tspan x="3715" dy="18">购买咨询电话:18675550537 QQ:22150066</tspan></text>
</g>
</svg>
